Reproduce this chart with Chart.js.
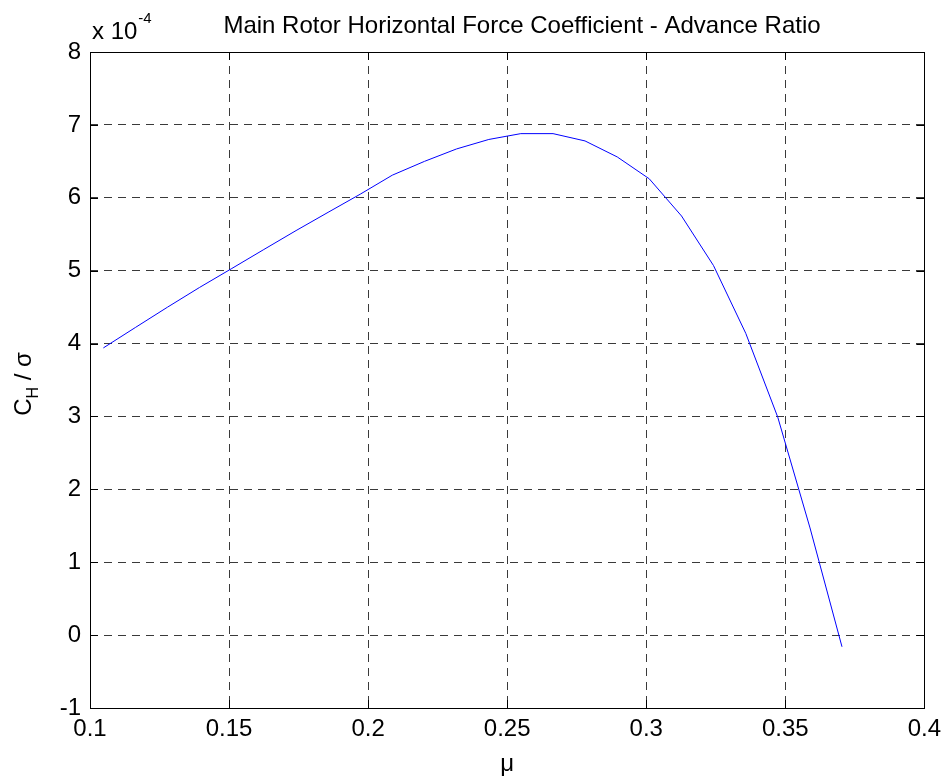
<!DOCTYPE html>
<html>
<head>
<meta charset="utf-8">
<script src="https://cdn.jsdelivr.net/npm/chart.js@4.4.1/dist/chart.umd.min.js"></script>
<style>
  html, body { margin: 0; padding: 0; background: #fff; }
  #wrap { width: 948px; height: 780px; }
</style>
</head>
<body>
<div id="wrap"><canvas id="myChart" width="948" height="780"></canvas></div>
<script>
// advance ratio mu
const mu = [0.1048, 0.1163, 0.1279, 0.1394, 0.1510, 0.1625, 0.1741, 0.1856, 0.1972, 0.2087, 0.2203, 0.2318,
            0.2434, 0.2549, 0.2665, 0.2780, 0.2896, 0.3011, 0.3127, 0.3242, 0.3358, 0.3473, 0.3589, 0.3704];
// C_H / sigma, in units of 1e-4
const chSigma = [3.94, 4.22, 4.50, 4.77, 5.03, 5.29, 5.55, 5.80, 6.05, 6.31, 6.50, 6.67,
                 6.80, 6.88, 6.88, 6.78, 6.56, 6.26, 5.75, 5.07, 4.14, 2.99, 1.47, -0.16];
const xTicks = [0.1, 0.15, 0.2, 0.25, 0.3, 0.35, 0.4];
const yTicks = [-1, 0, 1, 2, 3, 4, 5, 6, 7, 8];

const titleText = 'Main Rotor Horizontal Force Coefficient - Advance Ratio';
const FONT = '"Liberation Sans", Arial, sans-serif';

const points = mu.map((m, i) => ({ x: m, y: chSigma[i] }));

// frame, inward ticks and the texts matlab puts round the axes
const matlabAxes = {
    id: 'matlabAxes',
    afterDraw(chart) {
        const ctx = chart.ctx;
        const a = chart.chartArea;
        const xs = chart.scales.x, ys = chart.scales.y;
        ctx.save();
        ctx.strokeStyle = '#000';
        ctx.lineWidth = 1;
        ctx.beginPath();
        for (const t of xTicks) {
            const px = Math.round(xs.getPixelForValue(t)) + 0.5;
            ctx.moveTo(px, a.bottom); ctx.lineTo(px, a.bottom - 8);
            ctx.moveTo(px, a.top); ctx.lineTo(px, a.top + 8);
        }
        for (const t of yTicks) {
            const py = Math.round(ys.getPixelForValue(t)) + 0.5;
            ctx.moveTo(a.left, py); ctx.lineTo(a.left + 8, py);
            ctx.moveTo(a.right, py); ctx.lineTo(a.right - 8, py);
        }
        ctx.stroke();
        ctx.strokeRect(Math.round(a.left) + 0.5, Math.round(a.top) + 0.5,
                       Math.round(a.right - a.left), Math.round(a.bottom - a.top));

        ctx.fillStyle = '#000';
        ctx.textBaseline = 'alphabetic';
        // title
        ctx.font = '24px ' + FONT;
        ctx.textAlign = 'center';
        ctx.fillText(titleText, 522, 33);
        // exponent
        ctx.textAlign = 'left';
        ctx.font = '24px ' + FONT;
        ctx.fillText('x 10', 92, 39);
        const w = ctx.measureText('x 10').width;
        ctx.font = '15px ' + FONT;
        ctx.fillText('-4', 92 + w + 1, 23);
        // x label
        ctx.font = '24px ' + FONT;
        ctx.textAlign = 'center';
        ctx.fillText('\u03bc', (a.left + a.right) / 2, 771);
        // y label with subscript
        ctx.translate(31, 384);
        ctx.rotate(-Math.PI / 2);
        ctx.font = '24px ' + FONT;
        const wC = ctx.measureText('C').width;
        ctx.font = '16px ' + FONT;
        const wH = ctx.measureText('H').width;
        ctx.font = '24px ' + FONT;
        const wR = ctx.measureText(' / \u03c3').width;
        let x0 = -(wC + wH + wR) / 2;
        ctx.textAlign = 'left';
        ctx.fillText('C', x0, 0);
        ctx.font = '16px ' + FONT;
        ctx.fillText('H', x0 + wC, 7);
        ctx.font = '24px ' + FONT;
        ctx.fillText(' / \u03c3', x0 + wC + wH, 0);
        ctx.restore();
    }
};

const config = {
    type: 'scatter',
    data: {
        datasets: [{
            data: points,
            showLine: true,
            borderColor: '#0000ff',
            backgroundColor: '#0000ff',
            borderWidth: 1,
            pointRadius: 0,
            tension: 0
        }]
    },
    options: {
        responsive: false,
        animation: false,
        layout: { padding: { left: 0, right: 23, top: 52, bottom: 0 } },
        plugins: { legend: { display: false }, tooltip: { enabled: false } },
        scales: {
            x: {
                type: 'linear',
                min: 0.1, max: 0.4,
                afterBuildTicks: s => { s.ticks = xTicks.map(v => ({ value: v })); },
                afterFit: s => { s.height = 72; },
                ticks: {
                    color: '#000',
                    padding: 7,
                    font: { family: FONT, size: 24 },
                    maxRotation: 0,
                    callback: v => String(v)
                },
                grid: { color: '#3a3a3a', lineWidth: 1, drawTicks: false, tickLength: 0 },
                border: { display: false, dash: [8, 6] }
            },
            y: {
                type: 'linear',
                min: -1, max: 8,
                afterBuildTicks: s => { s.ticks = yTicks.map(v => ({ value: v })); },
                afterFit: s => { s.width = 90; },
                ticks: {
                    color: '#000',
                    padding: 9,
                    font: { family: FONT, size: 24 },
                    callback: v => String(v)
                },
                grid: { color: '#3a3a3a', lineWidth: 1, drawTicks: false, tickLength: 0 },
                border: { display: false, dash: [8, 6] }
            }
        }
    },
    plugins: [matlabAxes]
};

const myChart = new Chart(document.getElementById('myChart'), config);
</script>
</body>
</html>
